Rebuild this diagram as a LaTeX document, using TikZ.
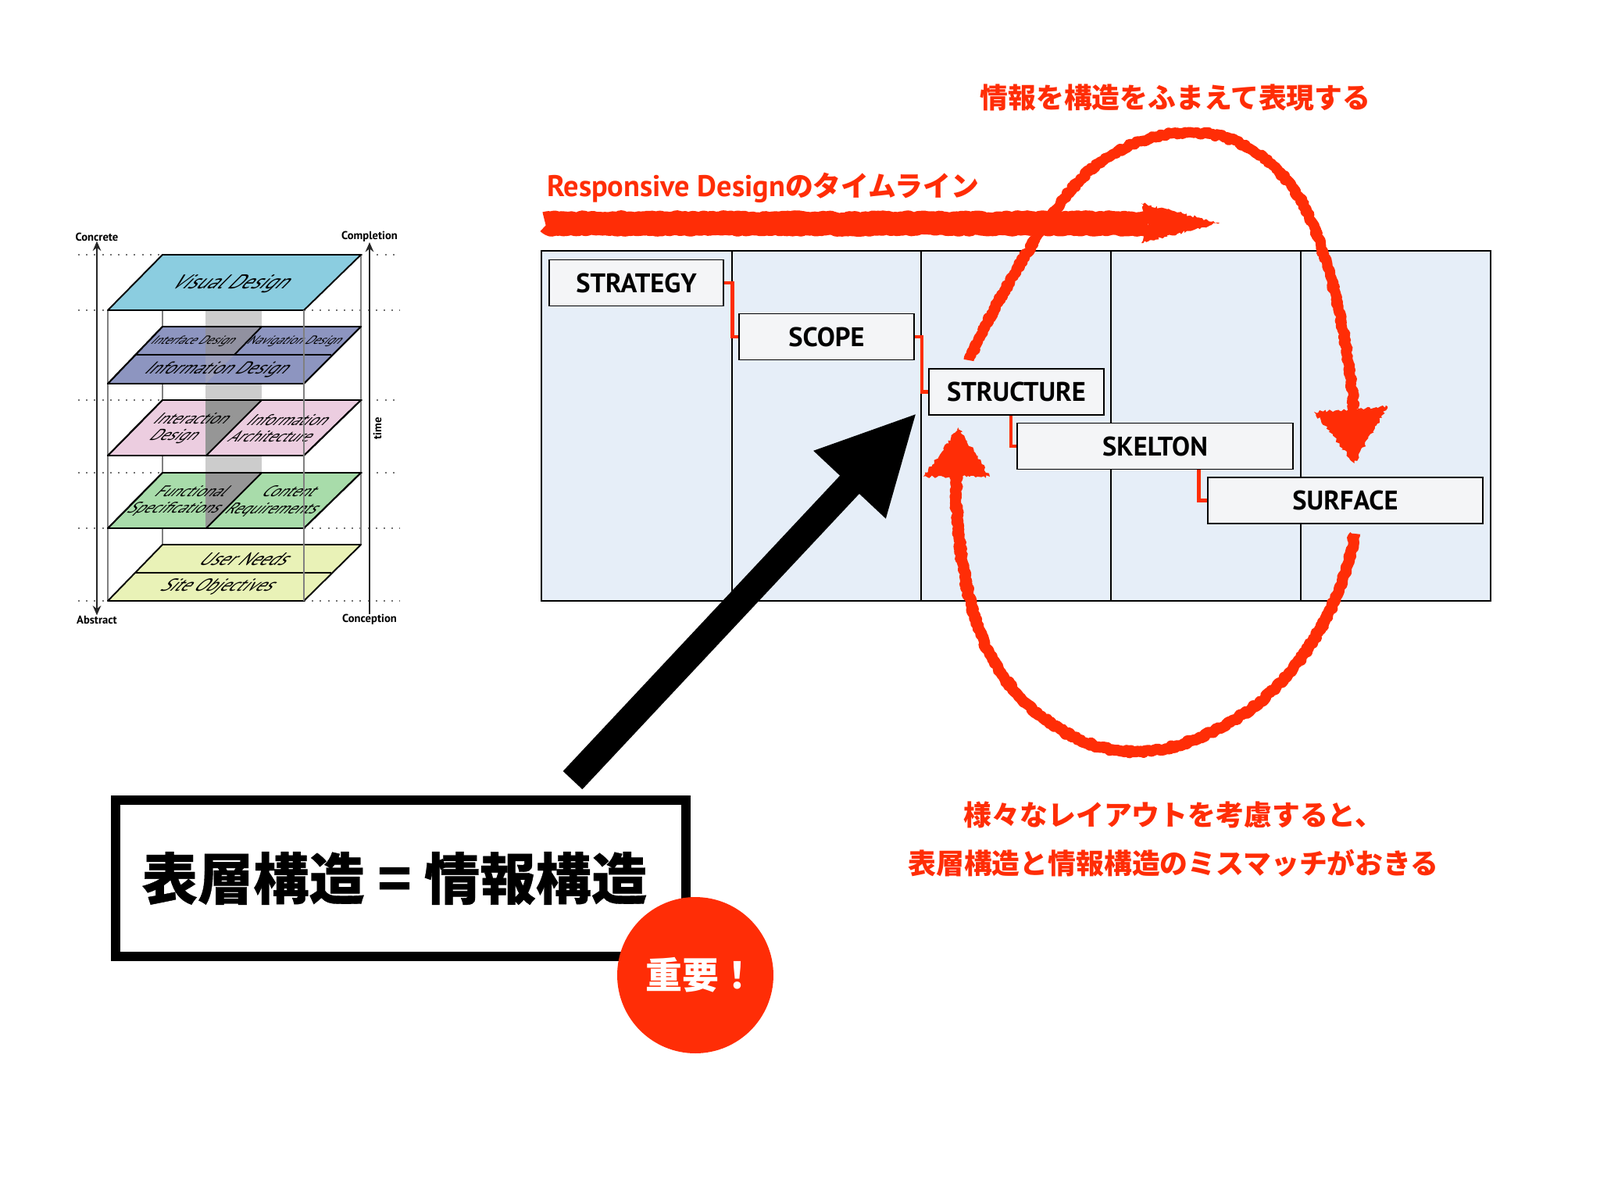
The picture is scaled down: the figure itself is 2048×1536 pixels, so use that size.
\documentclass[tikz,border=0pt]{standalone}
\usepackage{fontspec}
\setmainfont{PT Sans}
\newfontfamily\cjk{Noto Sans CJK JP}
\newfontfamily\cjkheavy{Noto Sans CJK JP}[BoldFeatures={FakeBold=.5}]
\usetikzlibrary{arrows.meta,decorations.pathmorphing}
\definecolor{hotred}{HTML}{FF2D06}
\definecolor{panelblue}{HTML}{E6EEF8}
\definecolor{boxgray}{HTML}{F4F5F7}
\tikzset{
  plane/.style={draw=black,line width=1.1pt,line join=round},
  slab/.style={xslant=1,inner sep=0pt,align=center,font=\fontsize{#1}{12.5}\selectfont},
  edge/.style={draw=black!50,line width=.9pt},
  dots/.style={black!55,line width=1.2pt,dash pattern=on 1.2pt off 4.6pt},
  tag/.style={inner sep=0pt,font=\bfseries\fontsize{8.3}{9}\selectfont},
  stepbox/.style={draw=black,fill=boxgray,line width=1.1pt,inner sep=0pt,minimum height=1.18cm,font=\bfseries\fontsize{19.6}{20}\selectfont},
  stepline/.style={draw=hotred,line width=2.8pt},
  chalk/.style={hotred,line join=round,decorate,decoration={random steps,segment length=1.6pt,amplitude=1.1pt}},
  redtext/.style={text=hotred,inner sep=0pt,font=\cjk\bfseries\fontsize{20.4}{35}\selectfont}
}
\begin{document}
\begin{tikzpicture}[x=.02cm,y=-.02cm]
  \useasboundingbox (0,0) rectangle (2048,1536);

  \draw[dots] (100,326) -- (208,326);
  \draw[dots] (462,326) -- (512,326);
  \draw[dots] (100,397) -- (138,397);
  \draw[dots] (389,397) -- (512,397);
  \draw[dots] (100,512) -- (208,512);
  \draw[dots] (462,512) -- (512,512);
  \draw[dots] (100,605) -- (208,605);
  \draw[dots] (462,605) -- (512,605);
  \draw[dots] (100,676) -- (138,676);
  \draw[dots] (389,676) -- (512,676);
  \draw[dots] (100,769) -- (138,769);
  \draw[dots] (389,769) -- (512,769);

  \draw[edge] (208,326) -- (208,697);
  \draw[edge] (462,326) -- (462,697);
  \draw[edge] (138,397) -- (138,769);
  \fill[black!20] (263,397) rectangle (335,676);

  \draw[plane,fill={rgb,255:red,139;green,205;blue,224}] (208,326) -- (462,326) -- (389,397) -- (138,397) -- cycle;
  \draw[plane,fill={rgb,255:red,141;green,149;blue,192}] (208,418) -- (462,418) -- (389,491) -- (138,491) -- cycle;
  \fill[fill={rgb,255:red,145;green,145;blue,160}] (263,418) -- (335,418) -- (300,454) -- (263,454) -- cycle;
  \fill[fill={rgb,255:red,155;green,158;blue,186}] (263,454) -- (300,454) -- (263,491) -- cycle;
  \draw[plane] (208,418) -- (462,418) -- (389,491) -- (138,491) -- cycle;
  \draw[plane] (173,454) -- (424,454);
  \draw[plane] (335,418) -- (300,454);

  \draw[plane,fill={rgb,255:red,236;green,205;blue,224}] (208,512) -- (462,512) -- (389,583) -- (138,583) -- cycle;
  \fill[black!41] (263,512) -- (335,512) -- (264,583) -- (263,583) -- cycle;
  \draw[plane] (208,512) -- (462,512) -- (389,583) -- (138,583) -- cycle;
  \draw[plane] (335,512) -- (264,583);

  \draw[plane,fill={rgb,255:red,168;green,220;blue,170}] (208,605) -- (462,605) -- (389,676) -- (138,676) -- cycle;
  \fill[black!41] (263,605) -- (335,605) -- (264,676) -- (263,676) -- cycle;
  \draw[plane] (208,605) -- (462,605) -- (389,676) -- (138,676) -- cycle;
  \draw[plane] (335,605) -- (264,676);

  \draw[plane,fill={rgb,255:red,233;green,242;blue,183}] (208,697) -- (462,697) -- (389,769) -- (138,769) -- cycle;
  \draw[plane] (173,733) -- (424,733);

  \node[slab=14.4] (visual) at (297,363) {Visual Design};
  \node[slab=8.6] (interface) at (248,437) {Interface Design};
  \node[slab=8.6] (navigation) at (378,437) {Navigation Design};
  \node[slab=12.5] (information) at (279,473) {Information Design};
  \node[slab=11.4] (interaction) at (235,548) {Interaction\\Design};
  \node[slab=11.4] (architecture) at (360,548) {Information\\Architecture};
  \node[slab=11.2] (functional) at (235,641) {Functional\\Specifications};
  \node[slab=11.2] (content) at (360,641) {Content\\Requirements};
  \node[slab=13] (userneeds) at (316,715) {User Needs};
  \node[slab=12.7] (objectives) at (280,751) {Site Objectives};

  \draw[edge] (389,397) -- (389,769);

  \node[tag] (concrete) at (124,303) {Concrete};
  \node[tag] (completion) at (473,303) {Completion};
  \node[tag] (abstract) at (124,793) {Abstract};
  \node[tag] (conception) at (473,793) {Conception};
  \node[tag,rotate=90] (timelabel) at (483,548) {time};
  \draw[line width=1.1pt,black!85,{Stealth[length=7pt,width=6pt]}-{Stealth[length=7pt,width=6pt]}] (concrete.south) -- (abstract.north);
  \draw[line width=1.1pt,black!85,-{Stealth[length=7pt,width=6pt]}] (conception.north) -- (completion.south);

  \draw[line width=1.1pt,fill=panelblue] (693,321) rectangle (1908,769);
  \draw[line width=1.1pt] (937,321) -- (937,769);
  \draw[line width=1.1pt] (1179,321) -- (1179,769);
  \draw[line width=1.1pt] (1422,321) -- (1422,769);
  \draw[line width=1.1pt] (1665,321) -- (1665,769);

  \node[stepbox,minimum width=4.46cm] (strategy) at (814.5,362) {STRATEGY};
  \node[stepbox,minimum width=4.48cm] (scope) at (1058,431) {SCOPE};
  \node[stepbox,minimum width=4.48cm] (structure) at (1301,501.5) {STRUCTURE};
  \node[stepbox,minimum width=7.06cm] (skelton) at (1478.5,571) {SKELTON};
  \node[stepbox,minimum width=7.04cm] (surface) at (1722,640.5) {SURFACE};
  \draw[stepline] (strategy.east) -- ++(11,0) |- (scope.west);
  \draw[stepline] (scope.east) -- ++(9,0) |- (structure.west);
  \draw[stepline] ([xshift=-4pt]structure.south) |- (skelton.west);
  \draw[stepline] ([xshift=32pt]skelton.south) |- (surface.west);

  \node[redtext,anchor=west] (timeline) at (700,240) {{\rmfamily\fontsize{21.8}{35}\selectfont Responsive Design}のタイムライン};
  \coordinate (flowstart) at (698,286);
  \coordinate (flowend) at (1470,286);
  \draw[chalk,line width=17pt] (flowstart) -- (flowend);
  \fill[chalk] (1461,260) -- (1561,285) -- (1461,311) -- (1470,286) -- cycle;

  \node[redtext] (upperlabel) at (1504.5,125) {情報を構造をふまえて表現する};
  \coordinate (uppertail) at (1240,461);
  \coordinate (upperend) at (1733,525);
  \draw[chalk,line width=7.5pt] (uppertail) .. controls (1272,390) and (1345,262) .. (1394,219) .. controls (1440,180) and (1490,168) .. (1528,170) .. controls (1590,170) and (1635,210) .. (1662,251) .. controls (1695,305) and (1725,420) .. (upperend);
  \fill[chalk] (1682,527) -- (1776,520) -- (1733.5,593) -- cycle;

  \coordinate (lowertail) at (1734,683);
  \coordinate (lowerend) at (1224,606);
  \draw[chalk,line width=8pt] (lowertail) .. controls (1715,790) and (1650,880) .. (1580,921) .. controls (1535,948) and (1495,962) .. (1450,962) .. controls (1380,962) and (1310,910) .. (1273,849) .. controls (1240,790) and (1222,700) .. (lowerend);
  \fill[chalk] (1182,610) -- (1227,547) -- (1267,610) -- cycle;

  \node[redtext,align=center] (lowerlabel) at (1502,1074) {様々なレイアウトを考慮すると、\\表層構造と情報構造のミスマッチがおきる};

  \coordinate (bigtail) at (733,998.5);
  \coordinate (bigtip) at (1174,528);
  \draw[line width=19.3pt,-{Triangle[length=72pt,width=66.5pt]}] (bigtail) -- (bigtip);

  \node[draw=black,line width=6.8pt,minimum width=14.6cm,minimum height=4cm] (headbox) at (513,1124) {};
  \node[inner sep=0pt,font=\cjkheavy\bfseries\fontsize{40.6}{44}\selectfont] (headtext) at (505,1124) {表層構造 = 情報構造};
  \node[circle,fill=hotred,minimum size=4cm,inner sep=0pt,text=white,font=\cjk\bfseries\fontsize{26.7}{30}\selectfont] (important) at (890,1248) {\hspace{8pt}重要！};
\end{tikzpicture}
\end{document}
